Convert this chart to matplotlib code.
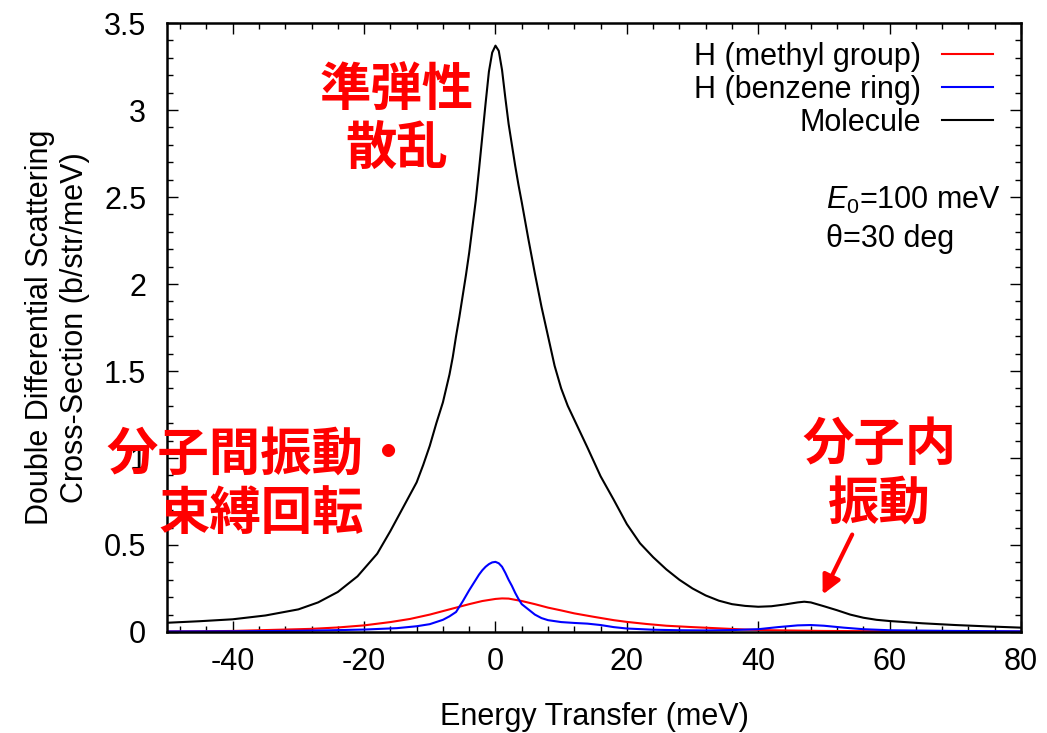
import numpy as np
import matplotlib
matplotlib.use("Agg")
import matplotlib.pyplot as plt

plt.rcParams['font.family'] = ['Liberation Sans', 'DejaVu Sans']
plt.rcParams['mathtext.fontset'] = 'custom'
plt.rcParams['mathtext.rm'] = 'Liberation Sans'
plt.rcParams['mathtext.it'] = 'Liberation Sans:italic'
plt.rcParams['axes.unicode_minus'] = False

# energy transfer (meV) and double differential cross-section (b/str/meV)
mol_e = [-50, -45, -40, -35, -30, -27, -24, -21, -18, -16, -14, -12, -11, -10, -9, -8, -7.5, -7,
         -6.5, -6, -5.5, -5, -4.5, -4, -3.5, -3, -2.5, -2, -1.5, -1, -0.5, 0, 0.5, 1, 1.5, 2,
         2.5, 3, 3.5, 4, 5, 6, 7, 8, 9, 10, 11, 12, 14, 16, 18, 20, 22, 24, 26, 28, 30, 32, 34,
         36, 38, 40, 42, 44, 46, 47, 48, 50, 52, 54, 56, 58, 60, 65, 70, 75, 80]
mol_v = [0.053, 0.062, 0.073, 0.095, 0.13, 0.17, 0.23, 0.32, 0.45, 0.58, 0.72, 0.86, 0.96, 1.07,
         1.20, 1.32, 1.40, 1.48, 1.58, 1.70, 1.81, 1.93, 2.05, 2.18, 2.33, 2.48, 2.66, 2.85, 3.04,
         3.22, 3.33, 3.37, 3.34, 3.23, 3.07, 2.92, 2.80, 2.68, 2.57, 2.47, 2.26, 2.06, 1.87, 1.70,
         1.53, 1.40, 1.30, 1.22, 1.06, 0.895, 0.76, 0.62, 0.51, 0.43, 0.36, 0.30, 0.25, 0.21,
         0.18, 0.16, 0.15, 0.145, 0.148, 0.158, 0.17, 0.174, 0.17, 0.148, 0.125, 0.10, 0.082,
         0.07, 0.063, 0.05, 0.04, 0.032, 0.025]

benz_e = [-50, -40, -30, -25, -20, -15, -12, -10, -8, -7, -6, -5.5, -5, -4, -3.5, -3, -2.5, -2,
          -1.5, -1, -0.5, 0, 0.5, 1, 1.5, 2, 2.5, 3, 3.5, 4, 4.5, 5, 6, 7, 8, 10, 12, 14, 16, 18,
          20, 24, 28, 32, 36, 40, 43, 46, 48, 50, 53, 56, 60, 70, 80]
benz_v = [0.003, 0.004, 0.007, 0.01, 0.014, 0.022, 0.033, 0.045, 0.07, 0.09, 0.115, 0.145, 0.175,
          0.24, 0.27, 0.30, 0.33, 0.355, 0.375, 0.39, 0.40, 0.403, 0.395, 0.375, 0.34, 0.30, 0.265,
          0.225, 0.19, 0.16, 0.145, 0.13, 0.10, 0.08, 0.068, 0.057, 0.052, 0.048, 0.04, 0.028,
          0.02, 0.013, 0.01, 0.009, 0.011, 0.016, 0.028, 0.038, 0.04, 0.036, 0.025, 0.016, 0.01,
          0.006, 0.004]

meth_e = [-50, -45, -40, -36, -32, -28, -24, -20, -16, -13, -10, -8, -6, -4, -2, 0, 1, 2, 4, 6,
          8, 10, 12, 15, 18, 20, 23, 26, 30, 34, 38, 42, 50, 60, 80]
meth_v = [0.003, 0.004, 0.006, 0.01, 0.014, 0.018, 0.026, 0.038, 0.057, 0.075, 0.10, 0.12, 0.14,
          0.16, 0.178, 0.19, 0.193, 0.192, 0.178, 0.16, 0.14, 0.124, 0.107, 0.087, 0.068, 0.058,
          0.046, 0.036, 0.028, 0.021, 0.014, 0.01, 0.006, 0.004, 0.002]

fs = 22

fig = plt.figure(figsize=(10.47, 7.33), dpi=100)
ax = fig.add_axes([0.1595, 0.1378, 0.8157, 0.8308])

ax.plot(meth_e, meth_v, color='red', lw=1.5, label='H (methyl group)')
ax.plot(benz_e, benz_v, color='blue', lw=1.5, label='H (benzene ring)')
ax.plot(mol_e, mol_v, color='black', lw=1.5, label='Molecule')

ax.set_xlim(-50, 80)
ax.set_ylim(0, 3.5)
ax.set_xticks([-40, -20, 0, 20, 40, 60, 80])
ax.set_xticks(np.arange(-48, 81, 4), minor=True)
ax.set_yticks([0, 0.5, 1, 1.5, 2, 2.5, 3, 3.5])
ax.set_yticklabels(['0', '0.5', '1', '1.5', '2', '2.5', '3', '3.5'])
ax.set_yticks(np.arange(0, 3.51, 0.1), minor=True)
ax.tick_params(which='both', direction='in', top=True, right=True, labelsize=fs, width=1)
ax.tick_params(which='major', length=8)
ax.tick_params(which='minor', length=4)
ax.tick_params(axis='x', which='major', pad=11)
ax.tick_params(axis='y', which='major', pad=15)
for s in ax.spines.values():
    s.set_linewidth(1.8)

ax.set_xlabel('Energy Transfer (meV)', fontsize=fs, labelpad=18)
ax.set_ylabel('Double Differential Scattering\nCross-Section (b/str/meV)', fontsize=fs,
              labelpad=10, linespacing=1.2)

ax.legend(loc='upper right', bbox_to_anchor=(0.967, 0.969), frameon=False, fontsize=fs,
          markerfirst=False, handlelength=1.65, handletextpad=0.7, labelspacing=0.1,
          borderpad=0, borderaxespad=0)

ax.text(0.7717, 0.709, r'$E_0$=100 meV', transform=ax.transAxes, fontsize=fs, va='center')
ax.text(0.7717, 0.645, 'θ=30 deg', transform=ax.transAxes, fontsize=fs, va='center')

jp = dict(color='red', fontsize=37, fontweight='bold', ha='center', va='center',
          family=['Noto Sans CJK JP'], linespacing=1.15)
ax.text(-15.1, 2.95, '準弾性\n散乱', **jp)
ax.text(-35.7, 0.85, '分子間振動・\n束縛回転', **jp)
ax.text(58.5, 0.91, '分子内\n振動', **jp)
ax.annotate('', xy=(49.8, 0.215), xytext=(54.3, 0.56),
            arrowprops=dict(arrowstyle='-|>', color='red', lw=3, mutation_scale=28,
                            shrinkA=0, shrinkB=0))

fig.savefig('out.png', dpi=100)
